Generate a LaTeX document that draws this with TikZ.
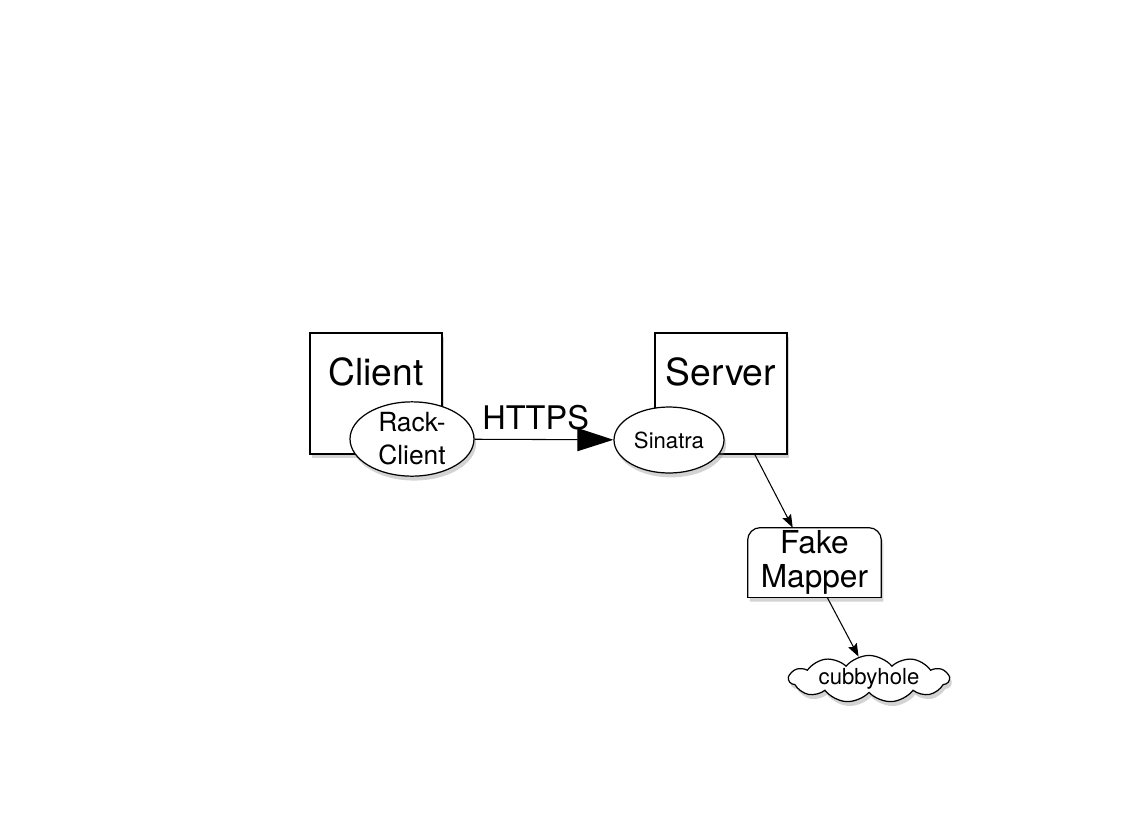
\documentclass[tikz,border=0pt]{standalone}
\usepackage{fontspec}
\setmainfont{TeX Gyre Heros}
\usetikzlibrary{arrows.meta,shapes.geometric,shapes.symbols,shadows,backgrounds}

\begin{document}
\begin{tikzpicture}[x=0.02cm, y=-0.02cm, >={Stealth[length=0.26cm, width=0.19cm, inset=0.04cm]},
  shade/.style={drop shadow={shadow xshift=1.2pt, shadow yshift=-2.5pt, opacity=0.35}},
  hostbox/.style={draw, line width=0.7pt, fill=white, shade, minimum width=2.64cm, minimum height=2.42cm, inner sep=0pt},
  hostname/.style={font=\fontsize{21.2}{25}\selectfont},
  app/.style={ellipse, draw, line width=0.7pt, fill=white, shade, inner sep=0pt, align=center},
  link/.style={->, line width=0.6pt}]
 \useasboundingbox (0,0) rectangle (1134,829);
 \node[hostbox, label={[hostname, yshift=0.43cm]center:Client}] (client) at (376,393.5) {};
 \node[hostbox, label={[hostname, yshift=0.43cm]center:Server}] (server) at (721,393.5) {};
 \node[app, minimum width=2.48cm, minimum height=1.36cm, font=\fontsize{15}{18.7}\selectfont] (rack) at (412,439) {Rack-\\Client};
 \node[app, minimum width=2.2cm, minimum height=1.32cm, font=\fontsize{12.6}{15}\selectfont] (sinatra) at (669,440) {Sinatra};
 \node[minimum width=2.66cm, minimum height=1.38cm, inner sep=0pt, align=center, font=\fontsize{18}{19}\selectfont] (mapper) at (814.5,562.5) {Fake\\Mapper};
 \begin{scope}[on background layer]
  \draw[line width=0.7pt, fill=white, shade, rounded corners=0.25cm] (mapper.south west) -- (mapper.north west) -- (mapper.north east) -- (mapper.south east);
  \draw[line width=0.7pt, line cap=rect] (mapper.south west) -- (mapper.south east);
 \end{scope}
 \node[cloud, draw, line width=0.7pt, fill=white, shade, cloud puffs=11, cloud puff arc=100, cloud ignores aspect, minimum width=3.2cm, minimum height=0.86cm, inner sep=0pt, font=\fontsize{12.6}{15}\selectfont] (cubby) at (869,679) {cubbyhole};
 \draw[line width=0.6pt, -{Triangle[length=0.72cm, width=0.46cm]}] (rack) -- node[pos=0.44, above=2pt, font=\fontsize{18.5}{22}\selectfont]{HTTPS} (sinatra);
 \draw[link] (server.-61) -- (mapper.122);
 \draw[link] (mapper.-70) -- (cubby.115);
\end{tikzpicture}
\end{document}
